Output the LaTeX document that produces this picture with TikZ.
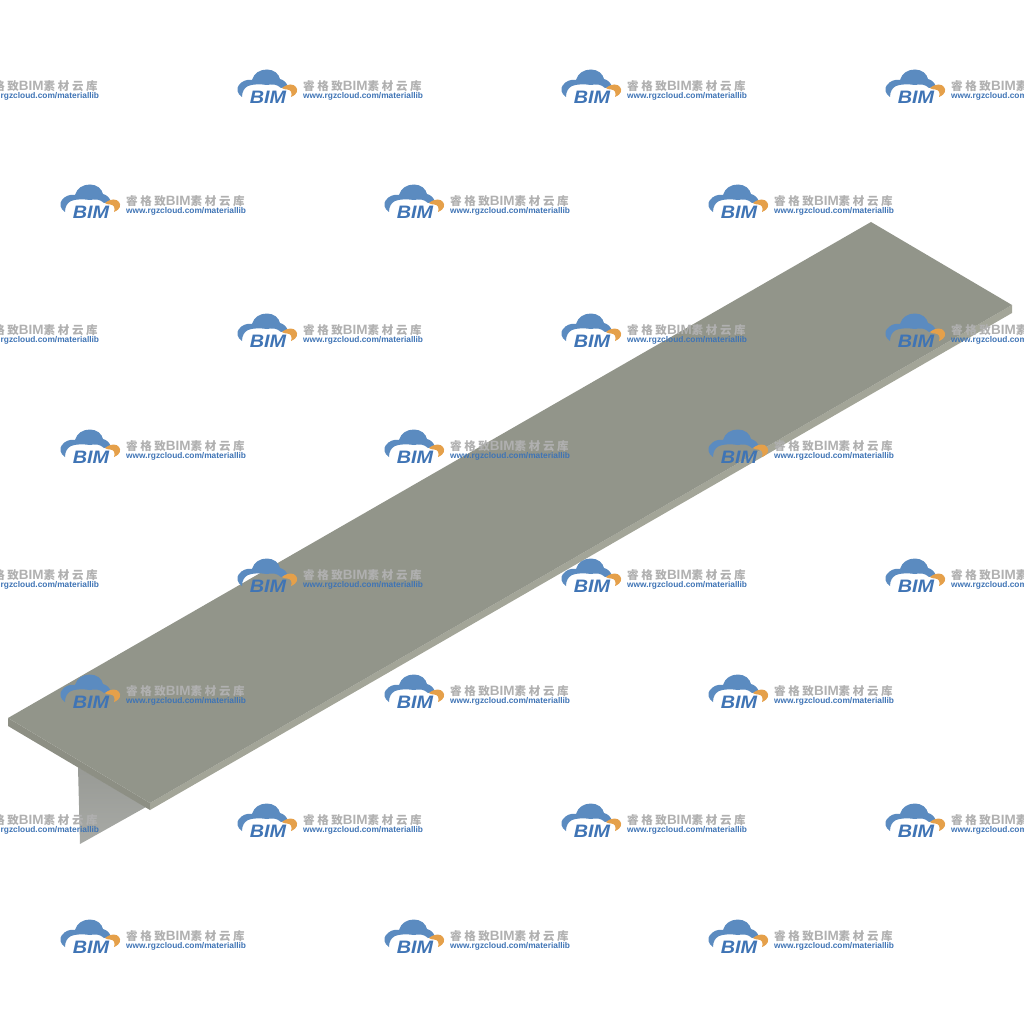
\documentclass[tikz,border=0pt]{standalone}
\usepackage{fontspec}
\setmainfont{Liberation Sans}
\newfontfamily\cjk[LetterSpace=23]{Noto Sans CJK SC}
\definecolor{beamtop}{HTML}{92958A}
\definecolor{beamedge}{HTML}{A3A598}
\definecolor{beamfront}{HTML}{8D8F84}
\definecolor{beamweb}{HTML}{A8AAA6}
\definecolor{beamshade}{HTML}{989A95}
\definecolor{logoblue}{HTML}{5B8BC0}
\definecolor{logoorange}{HTML}{E5A04A}
\definecolor{logotext}{HTML}{3F74B5}
\definecolor{logogrey}{HTML}{B0B0B0}
\tikzset{
	wmtitle/.style={anchor=west,inner sep=0pt,text=logogrey,font=\fontsize{13.5}{13.5}\selectfont\bfseries},
	wmurl/.style={anchor=west,inner sep=0pt,text=logotext,font=\fontsize{8.35}{8.35}\selectfont\bfseries},
	wmbim/.style={anchor=center,inner sep=0pt,xscale=1.1,text=logotext,font=\fontsize{18}{18}\selectfont\bfseries\itshape},
	bimlogo/.pic={
		\fill[logoblue] (4,10) .. controls (-1,7) and (-2,1) .. (1,-2)
			.. controls (4,-6) and (9,-8) .. (14,-7)
			.. controls (16,-14) and (22,-17.5) .. (29,-17.5)
			.. controls (36,-17.5) and (41,-13) .. (42,-8)
			.. controls (46,-7) and (49,-4) .. (50,0)
			.. controls (47,0) and (45,1) .. (43,1)
			.. controls (39,-3) and (34,-3) .. (29,-2)
			.. controls (22,-3) and (15,-3) .. (10,-1)
			.. controls (6,1) and (4,5) .. (4,10) -- cycle;
		\fill[logoorange] (44,1) .. controls (50,-4) and (56,-3) .. (58,0)
			.. controls (60,3) and (60,7) .. (53,10)
			.. controls (54.5,6) and (53,2.5) .. (49,2.5)
			.. controls (47,2.5) and (45,2) .. (44,1) -- cycle;
		\node[wmbim] (bim) at (30,10) {BIM};
		\node[wmtitle] (title) at (65,-0.5) {{\cjk\fontsize{11.5}{11.5}\selectfont 睿格致}BIM{\cjk\fontsize{11.5}{11.5}\selectfont 素材云库}};
		\node[wmurl] (url) at (65,9) {www.rgzcloud.com/materiallib};
	}
}
\begin{document}
\begin{tikzpicture}[x=1pt,y=-1pt]
	\useasboundingbox (0,0) rectangle (1024,1024);
	\clip (0,0) rectangle (1024,1024);
	\coordinate (a) at (8,718);
	\coordinate (b) at (871,222);
	\coordinate (c) at (1012,305);
	\coordinate (d) at (150,803);
	\coordinate (a1) at (8,726);
	\coordinate (c1) at (1012,313);
	\coordinate (d1) at (150,810);
	\coordinate (w1) at (78,767);
	\coordinate (w2) at (80,844);
	\coordinate (w3) at (146,807);
	% web
	\shade[top color=beamshade,bottom color=beamweb] (w1) -- (w2) -- (w3) -- cycle;
	% flange
	\fill[beamfront] (a) -- (d) -- (d1) -- (a1) -- cycle;
	\fill[beamedge] (d) -- (c) -- (c1) -- (d1) -- cycle;
	\fill[beamtop] (a) -- (b) -- (c) -- (d) -- cycle;
	% watermark
	\foreach \y in {87,331,576,821} {
		\foreach \x in {-86,238,562,886} {
			\pic (wm\x\y) at (\x,\y) {bimlogo};
		}
	}
	\foreach \y in {202,447,692,937} {
		\foreach \x in {61,385,709} {
			\pic (wm\x\y) at (\x,\y) {bimlogo};
		}
	}
\end{tikzpicture}
\end{document}
